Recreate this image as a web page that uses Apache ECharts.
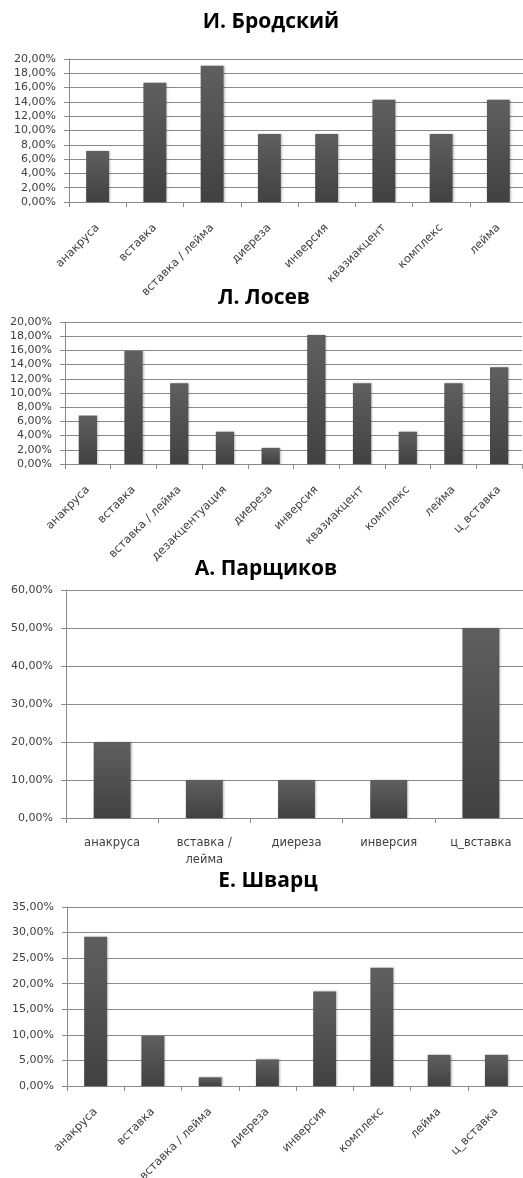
<!DOCTYPE html>
<html>
<head>
<meta charset="utf-8">
<script src="https://cdn.jsdelivr.net/npm/echarts@6/dist/echarts.min.js"></script>
<style>
  html, body { margin: 0; padding: 0; background: #fff; }
  #chart { width: 523px; height: 1178px; }
</style>
</head>
<body>
<div id="chart"></div>
<script>
// Share of each device type per poet, in percent
const titles = ['И. Бродский', 'Л. Лосев', 'А. Парщиков', 'Е. Шварц'];

const catsBrodsky = ['анакруса', 'вставка', 'вставка / лейма', 'диереза', 'инверсия', 'квазиакцент', 'комплекс', 'лейма'];
const valsBrodsky = [7.14, 16.67, 19.05, 9.52, 9.52, 14.29, 9.52, 14.29];

const catsLosev = ['анакруса', 'вставка', 'вставка / лейма', 'дезакцентуация', 'диереза', 'инверсия', 'квазиакцент', 'комплекс', 'лейма', 'ц_вставка'];
const valsLosev = [6.82, 15.91, 11.36, 4.55, 2.27, 18.18, 11.36, 4.55, 11.36, 13.64];

const catsParshchikov = ['анакруса', 'вставка / лейма', 'диереза', 'инверсия', 'ц_вставка'];
const valsParshchikov = [20, 10, 10, 10, 50];

const catsShvarts = ['анакруса', 'вставка', 'вставка / лейма', 'диереза', 'инверсия', 'комплекс', 'лейма', 'ц_вставка'];
const valsShvarts = [29.2, 9.8, 1.7, 5.2, 18.5, 23.1, 6.1, 6.1];

// y-axis scales: [max, interval]
const yScales = [[20, 2], [20, 2], [60, 10], [35, 5]];

const panels = [
  { cats: catsBrodsky, vals: valsBrodsky, grid: { left: 69, top: 59, width: 458, height: 143 }, titleXY: [271, 22], rotate: 45 },
  { cats: catsLosev, vals: valsLosev, grid: { left: 65, top: 322, width: 457, height: 142 }, titleXY: [264, 298], rotate: 45 },
  { cats: catsParshchikov, vals: valsParshchikov, grid: { left: 66, top: 590, width: 461, height: 228 }, titleXY: [266, 569], rotate: 0 },
  { cats: catsShvarts, vals: valsShvarts, grid: { left: 67, top: 907, width: 458, height: 179 }, titleXY: [268, 881], rotate: 45 }
];

const lineGray = '#8a8a8a';
const textGray = '#404040';
const labelFont = 'DejaVu Sans';

const barFill = new echarts.graphic.LinearGradient(0, 0, 0, 1, [
  { offset: 0, color: '#5f5f5f' },
  { offset: 1, color: '#414141' }
]);

const option = {
  animation: false,
  backgroundColor: '#ffffff',
  title: panels.map((p, i) => ({
    text: titles[i],
    left: p.titleXY[0],
    top: p.titleXY[1],
    textAlign: 'center',
    textVerticalAlign: 'middle',
    padding: 0,
    textStyle: { fontFamily: 'Open Sans', fontWeight: 'bold', fontSize: 21, color: '#000' }
  })),
  grid: panels.map(p => Object.assign({ outerBoundsMode: 'none', containLabel: false }, p.grid)),
  xAxis: panels.map((p, i) => ({
    type: 'category',
    gridIndex: i,
    data: p.cats,
    axisLine: { lineStyle: { color: lineGray, width: 1 } },
    axisTick: { show: true, length: 5, lineStyle: { color: lineGray } },
    axisLabel: {
      interval: 0,
      rotate: p.rotate,
      margin: p.rotate ? 24 : 17,
      color: textGray,
      fontFamily: labelFont,
      fontSize: 11.5,
      lineHeight: 17,
      hideOverlap: false,
      // the horizontal layout wraps long names after the slash
      formatter: p.rotate ? v => v : v => v.replace(' / ', ' /\n')
    },
    splitLine: { show: false }
  })),
  yAxis: panels.map((p, i) => ({
    type: 'value',
    gridIndex: i,
    min: 0,
    max: yScales[i][0],
    interval: yScales[i][1],
    axisLine: { show: true, lineStyle: { color: lineGray, width: 1 } },
    axisTick: { show: true, length: 5, lineStyle: { color: lineGray } },
    axisLabel: {
      margin: 13,
      color: textGray,
      fontFamily: labelFont,
      fontSize: 11,
      formatter: v => v.toFixed(2).replace('.', ',') + '%'
    },
    splitLine: { show: true, lineStyle: { color: lineGray, width: 1 } }
  })),
  series: panels.map((p, i) => ({
    type: 'bar',
    xAxisIndex: i,
    yAxisIndex: i,
    data: p.vals,
    barWidth: '40%',
    itemStyle: {
      color: barFill,
      shadowColor: 'rgba(0,0,0,0.25)',
      shadowBlur: 2,
      shadowOffsetX: 1,
      shadowOffsetY: 0
    }
  }))
};

const chart = echarts.init(document.getElementById('chart'), null, { renderer: 'canvas' });
chart.setOption(option);
</script>
</body>
</html>
